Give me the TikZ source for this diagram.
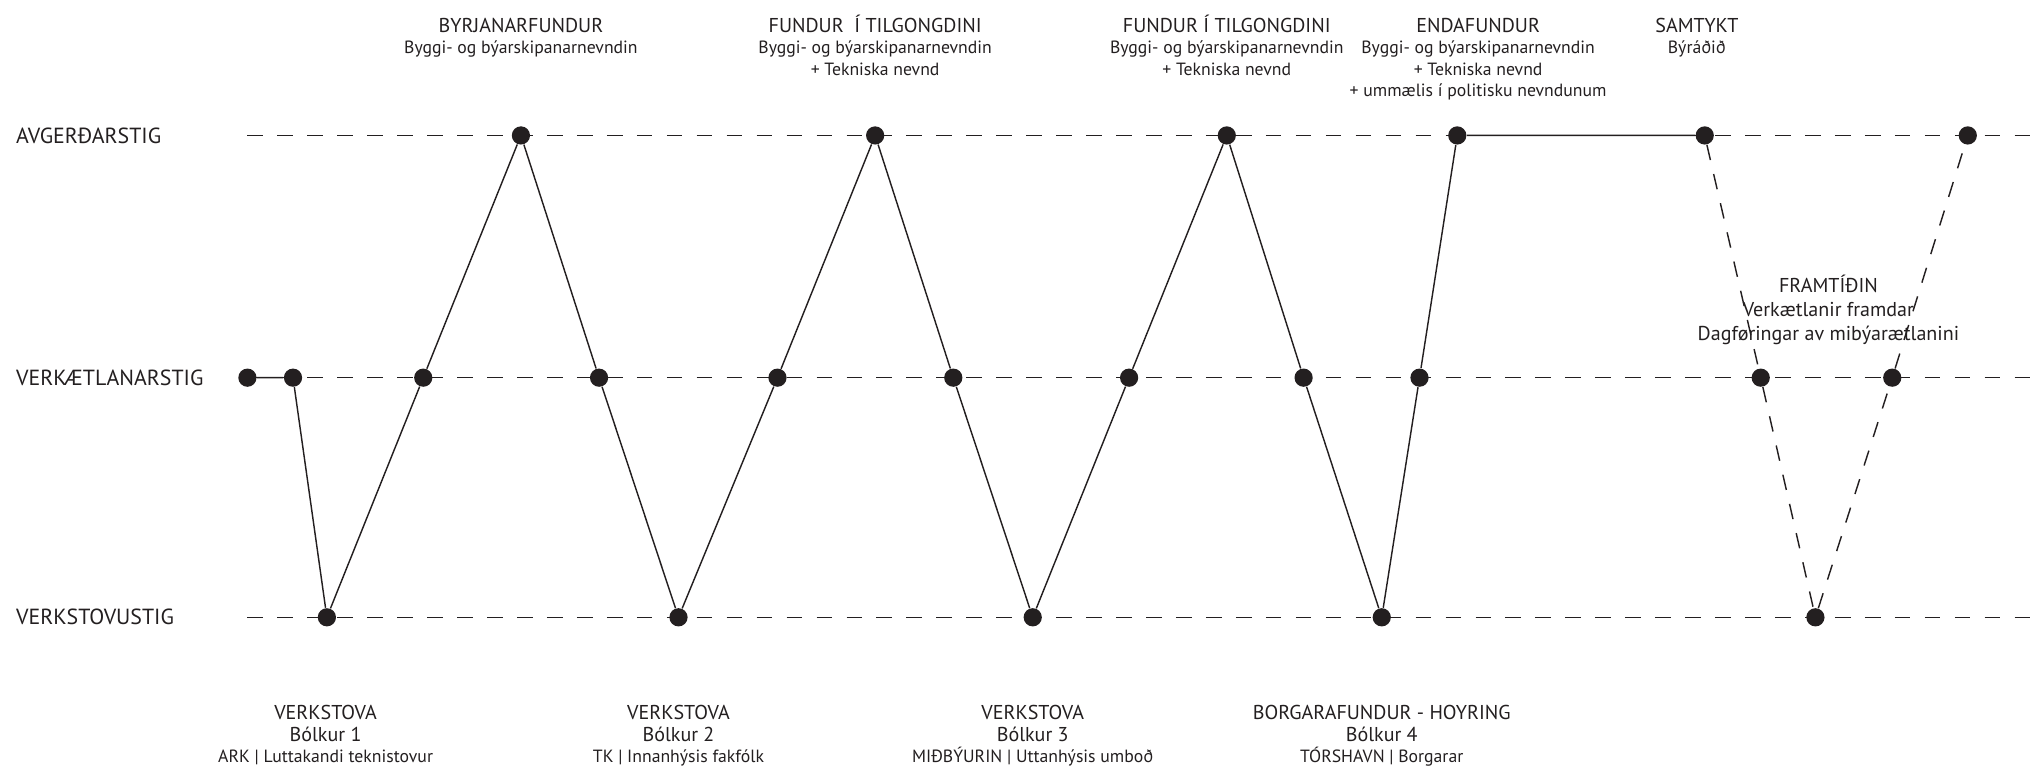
\documentclass[tikz,border=0pt]{standalone}
\usepackage{fontspec}
\setmainfont{PT Sans}
\usetikzlibrary{positioning}
\definecolor{ink}{HTML}{231F20}
\newcommand{\capline}{\rule{0pt}{8pt}}
\newcommand{\subsize}{\fontsize{6.8}{8.25}\selectfont}

\begin{document}
\begin{tikzpicture}
        [
        x = 0.5pt, y = -0.5pt,
        every node/.style = {text = ink, inner sep = 0},
        level line/.style = {ink, line width = 0.5pt, dash pattern = on 6pt off 5.5pt},
        step line/.style = {ink, line width = 0.55pt},
        future line/.style = {ink, line width = 0.55pt, dash pattern = on 6pt off 5.5pt},
        ]
        \tikzstyle{dot node}=[circle,fill=ink,minimum size=7pt]
        \tikzstyle{level node}=[anchor=west,font=\fontsize{8.4}{9}\selectfont]
        \tikzstyle{meeting node}=[anchor=north,align=center,font=\fontsize{7.7}{8.25}\selectfont]

        \useasboundingbox (0,0) rectangle (1568,590.6);

        % levels
        \node[level node] (avgerd) at (12,104) {AVGERÐARSTIG};
        \node[level node] (verkaetl) at (12,290) {VERKÆTLANARSTIG};
        \node[level node] (verkstovu) at (12,474) {VERKSTOVUSTIG};

        \coordinate (top left) at (190,104);
        \coordinate (top right) at (1568,104);
        \coordinate (mid left) at (190,290);
        \coordinate (mid right) at (1568,290);
        \coordinate (low left) at (190,474);
        \coordinate (low right) at (1568,474);
        \draw[level line] (top left) -- (top right);
        \draw[level line] (mid left) -- (mid right);
        \draw[level line] (low left) -- (low right);

        % dots
        \foreach \name/\x in {t1/400, t2/672, t3/942, t4/1119, t5/1309, t6/1511}
            \node[dot node] (\name) at (\x,104) {};
        \foreach \name/\x in {m1/190, m2/225, m3/325, m4/460, m5/597, m6/732,
                              m7/867, m8/1001, m9/1090, m10/1352, m11/1453}
            \node[dot node] (\name) at (\x,290) {};
        \foreach \name/\x in {b1/251, b2/521, b3/793, b4/1061, b5/1394}
            \node[dot node] (\name) at (\x,474) {};

        \draw[step line] (m1) -- (m2) -- (b1) -- (m3) -- (t1) -- (m4) -- (b2)
            -- (m5) -- (t2) -- (m6) -- (b3) -- (m7) -- (t3) -- (m8) -- (b4)
            -- (m9) -- (t4) -- (t5);
        \draw[future line] (t5) -- (m10) -- (b5) -- (m11) -- (t6);

        % meetings
        \node[meeting node] (byrjan) at (400,8.4)
            {\capline BYRJANARFUNDUR\\ \subsize Byggi- og býarskipanarnevndin};
        \node[meeting node] (tilgongd1) at (672,8.4)
            {\capline FUNDUR \ Í TILGONGDINI\\ \subsize Byggi- og býarskipanarnevndin\\
             \subsize + Tekniska nevnd};
        \node[meeting node] (tilgongd2) at (942,8.4)
            {\capline FUNDUR Í TILGONGDINI\\ \subsize Byggi- og býarskipanarnevndin\\
             \subsize + Tekniska nevnd};
        \node[meeting node] (enda) at (1135,8.4)
            {\capline ENDAFUNDUR\\ \subsize Byggi- og býarskipanarnevndin\\
             \subsize + Tekniska nevnd\\ \subsize + ummælis í politisku nevndunum};
        \node[meeting node] (samtykt) at (1303,8.4)
            {\capline SAMTYKT\\ \subsize Býráðið};
        \node[meeting node, font=\fontsize{7.7}{9.2}\selectfont] (framtid) at (1404,208)
            {\capline FRAMTÍÐIN\\ Verkætlanir framdar\\ Dagføringar av mibýarætlanini};

        % workshops
        \node[meeting node] (bolkur1) at (250,536.4)
            {\capline VERKSTOVA\\ Bólkur 1\\ \subsize ARK | Luttakandi teknistovur};
        \node[meeting node] (bolkur2) at (521,536.4)
            {\capline VERKSTOVA\\ Bólkur 2\\ \subsize TK | Innanhýsis fakfólk};
        \node[meeting node] (bolkur3) at (793,536.4)
            {\capline VERKSTOVA\\ Bólkur 3\\ \subsize MIÐBÝURIN | Uttanhýsis umboð};
        \node[meeting node] (bolkur4) at (1061,536.4)
            {\capline BORGARAFUNDUR - HOYRING\\ Bólkur 4\\ \subsize TÓRSHAVN | Borgarar};
\end{tikzpicture}
\end{document}
